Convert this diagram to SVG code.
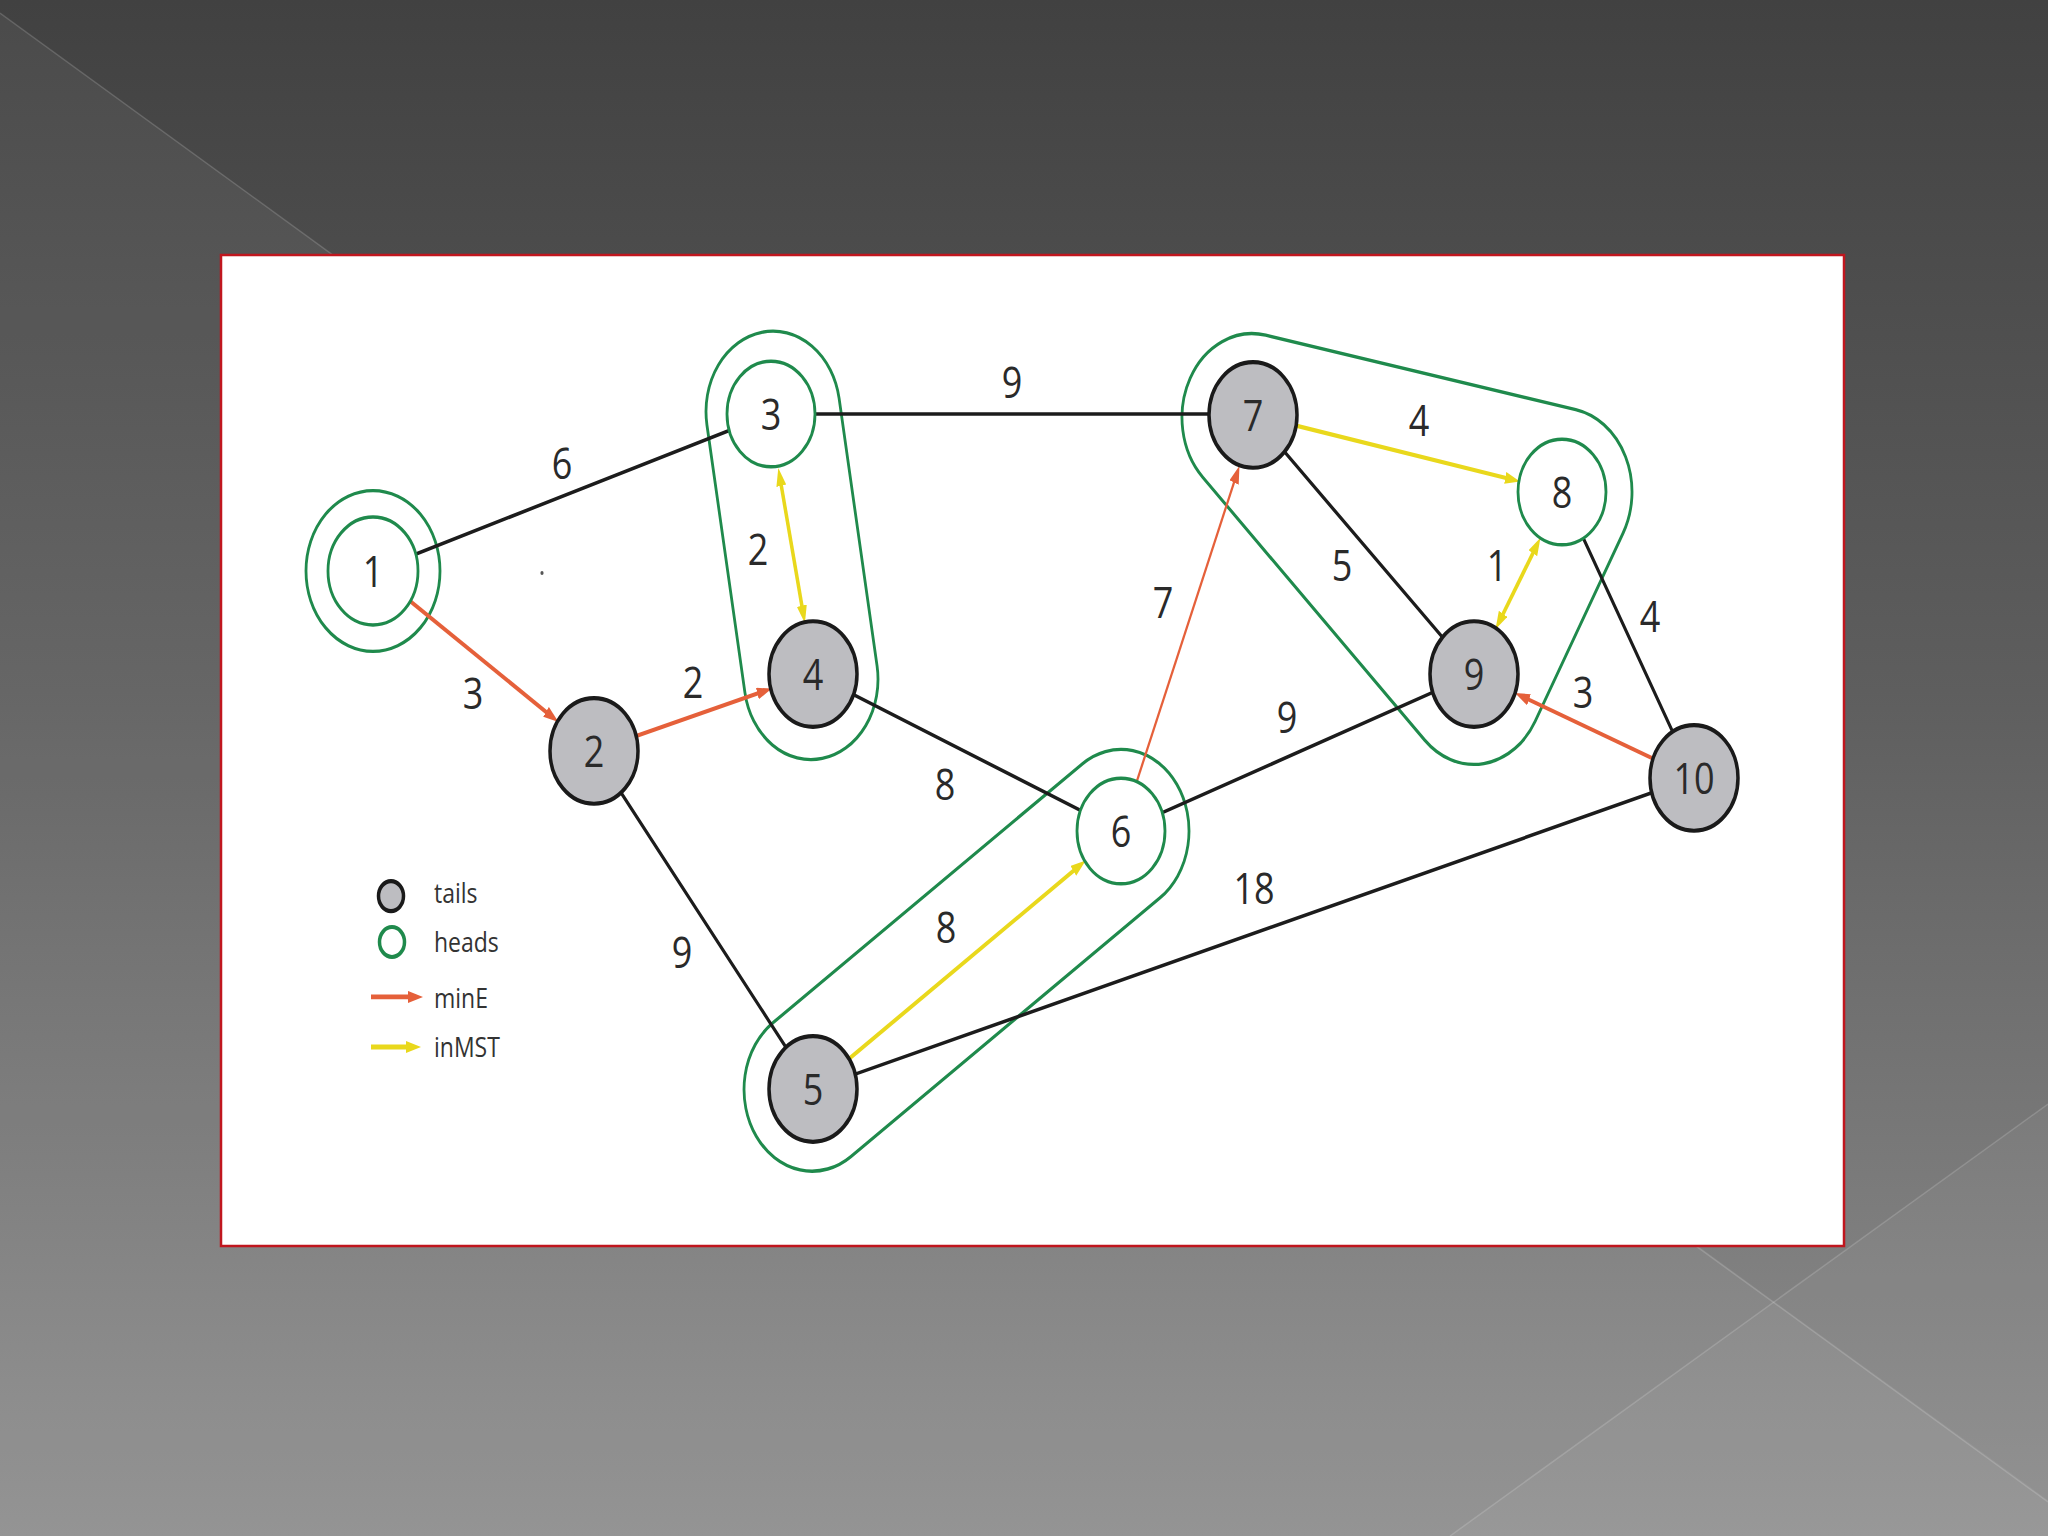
<svg xmlns="http://www.w3.org/2000/svg" width="2048" height="1536" viewBox="0 0 2048 1536">
  <defs>
    <linearGradient id="bg" x1="0" y1="0" x2="0" y2="1">
      <stop offset="0" stop-color="#414141"/>
      <stop offset="0.45" stop-color="#5e5e5e"/>
      <stop offset="1" stop-color="#8f8f8f"/>
    </linearGradient>
    <marker id="arrO" markerUnits="userSpaceOnUse" markerWidth="16" markerHeight="12" refX="6" refY="5" orient="auto">
      <path d="M0,0 L15,5 L0,10 Z" fill="#e5603a"/>
    </marker>
    <marker id="arrY" markerUnits="userSpaceOnUse" markerWidth="16" markerHeight="12" refX="6" refY="5" orient="auto-start-reverse">
      <path d="M0,0 L15,5 L0,10 Z" fill="#e9d81c"/>
    </marker>
    <style>
      .edge { stroke: #1c1c1c; stroke-width: 3; fill: none; stroke-linecap: round; }
      .minE { stroke: #e5603a; stroke-width: 3.5; fill: none; marker-end: url(#arrO); }
      .inMST { stroke: #e9d81c; stroke-width: 3.5; fill: none; }
      .grp { stroke: #1f8a4c; stroke-width: 2.8; fill: none; }
      .head { stroke: #1f8a4c; stroke-width: 2.8; fill: #ffffff; }
      .tail { stroke: #1a1a1a; stroke-width: 3.5; fill: #bdbdc1; }
      .nl { font-family: "Open Sans", "Noto Sans", "Liberation Sans", sans-serif; font-size: 36px; fill: #2a2a2a; text-anchor: middle; }
      .el { font-family: "Open Sans", "Noto Sans", "Liberation Sans", sans-serif; font-size: 36px; fill: #2a2a2a; text-anchor: middle; }
      .lg { font-family: "Open Sans", "Noto Sans", "Liberation Sans", sans-serif; font-size: 23px; fill: #333333; }
    </style>
  </defs>

  <rect x="0" y="0" width="2048" height="1536" fill="url(#bg)"/>
  <polygon points="0,13 2048,1500 2048,1536 0,1536" fill="#ffffff" fill-opacity="0.05"/>
  <polygon points="2048,1104 1450,1536 2048,1536" fill="#ffffff" fill-opacity="0.04"/>
  <line x1="0" y1="13" x2="2048" y2="1502" stroke="#ffffff" stroke-opacity="0.16" stroke-width="1.5"/>
  <line x1="2048" y1="1104" x2="1450" y2="1536" stroke="#ffffff" stroke-opacity="0.16" stroke-width="1.5"/>

  <rect id="panel" x="221" y="255" width="1623" height="991" fill="#ffffff" stroke="#c0161e" stroke-width="2.5"/>

  <g transform="scale(1,1.2)">
    <g id="groups">
      <path class="grp" d="M839.05,331.74 L877.05,554.74 A67,67 0 0 1 744.95,577.26 L706.95,354.26 A67,67 0 0 1 839.05,331.74 Z"/>
      <path class="grp" d="M1159.9,748.28 L850.9,963.78 A68,68 0 0 1 773.1,852.22 L1082.1,636.72 A68,68 0 0 1 1159.9,748.28 Z"/>
      <path class="grp" d="M1265.73,279.35 L1575.73,341.35 A70,70 0 0 1 1623.06,444.23 L1535.06,601.23 A70,70 0 0 1 1424.84,616.83 L1202.84,397.83 A70,70 0 0 1 1265.73,279.35 Z"/>
      <circle class="grp" cx="373" cy="475.8" r="67"/>
    </g>

    <g id="connectors">
      <line class="edge" x1="414.8" y1="462.1" x2="729.2" y2="358.7"/>
      <line class="edge" x1="815" y1="345" x2="1209" y2="345"/>
      <line class="edge" x1="853.5" y1="578.9" x2="1080.5" y2="675.3"/>
      <line class="edge" x1="621" y1="660.5" x2="786" y2="872.8"/>
      <line class="edge" x1="855.2" y1="895.1" x2="1651.8" y2="660.7"/>
      <line class="edge" x1="1162.3" y1="677.2" x2="1432.7" y2="577"/>
      <line class="edge" x1="1284.5" y1="376.5" x2="1442.5" y2="531"/>
      <line class="edge" x1="1583.3" y1="448.5" x2="1672.7" y2="609.8"/>

      <line class="minE" x1="409.4" y1="500.5" x2="551" y2="596.6"/>
      <line class="minE" x1="636.2" y1="613.4" x2="763.1" y2="576.3"/>
      <line class="minE" x1="1136.7" y1="651.4" x2="1236.2" y2="396.5" style="stroke-width:2.2"/>
      <line class="minE" x1="1653.1" y1="632.2" x2="1523.4" y2="580.9"/>

      <line class="inMST" x1="780.1" y1="398.9" x2="803.1" y2="510.6" marker-start="url(#arrY)" marker-end="url(#arrY)"/>
      <line class="inMST" x1="1296" y1="354.7" x2="1511.1" y2="399.4" marker-end="url(#arrY)"/>
      <line class="inMST" x1="1535.9" y1="455.9" x2="1500.1" y2="516.7" marker-start="url(#arrY)" marker-end="url(#arrY)"/>
      <line class="inMST" x1="849.1" y1="882.3" x2="1078.3" y2="722.3" marker-end="url(#arrY)"/>
    </g>

    <g id="edge-labels">
      <text class="el" x="562" y="398.8">6</text>
      <text class="el" x="1012" y="332">9</text>
      <text class="el" x="473" y="590.5">3</text>
      <text class="el" x="693" y="582">2</text>
      <text class="el" x="758" y="471">2</text>
      <text class="el" x="945" y="667">8</text>
      <text class="el" x="682" y="807">9</text>
      <text class="el" x="946" y="785.5">8</text>
      <text class="el" x="1254" y="753">18</text>
      <text class="el" x="1163" y="514.7">7</text>
      <text class="el" x="1287" y="611">9</text>
      <text class="el" x="1419" y="363">4</text>
      <text class="el" x="1342" y="484">5</text>
      <text class="el" x="1497" y="484">1</text>
      <text class="el" x="1650" y="527">4</text>
      <text class="el" x="1583" y="589.7">3</text>
    </g>

    <circle cx="542" cy="477.5" r="1.6" fill="#555555"/>

    <g id="node-1"><circle class="head" cx="373" cy="475.8" r="45"/><text class="nl" x="373" y="488.8">1</text></g>
    <g id="node-2"><circle class="tail" cx="594" cy="625.8" r="44"/><text class="nl" x="594" y="638.8">2</text></g>
    <g id="node-3"><circle class="head" cx="771" cy="345" r="44"/><text class="nl" x="771" y="358">3</text></g>
    <g id="node-4"><circle class="tail" cx="813" cy="561.7" r="44"/><text class="nl" x="813" y="574.7">4</text></g>
    <g id="node-5"><circle class="tail" cx="813" cy="907.5" r="44"/><text class="nl" x="813" y="920.5">5</text></g>
    <g id="node-6"><circle class="head" cx="1121" cy="692.5" r="44"/><text class="nl" x="1121" y="705.5">6</text></g>
    <g id="node-7"><circle class="tail" cx="1253" cy="345.8" r="44"/><text class="nl" x="1253" y="358.8">7</text></g>
    <g id="node-8"><circle class="head" cx="1562" cy="410" r="44"/><text class="nl" x="1562" y="423">8</text></g>
    <g id="node-9"><circle class="tail" cx="1474" cy="561.7" r="44"/><text class="nl" x="1474" y="574.7">9</text></g>
    <g id="node-10"><circle class="tail" cx="1694" cy="648.3" r="44"/><text class="nl" x="1694" y="661.3">10</text></g>

    <g id="legend">
      <circle cx="391" cy="746.7" r="12.5" fill="#bdbdc1" stroke="#1a1a1a" stroke-width="3.5"/>
      <text class="lg" x="434" y="752.5">tails</text>
      <circle cx="392" cy="785" r="12.5" fill="#ffffff" stroke="#1f8a4c" stroke-width="3.5"/>
      <text class="lg" x="434" y="793.3">heads</text>
      <line x1="371" y1="830.8" x2="414" y2="830.8" stroke="#e5603a" stroke-width="4" marker-end="url(#arrO)"/>
      <text class="lg" x="434" y="840">minE</text>
      <line x1="371" y1="872.5" x2="412" y2="872.5" stroke="#e9d81c" stroke-width="4" marker-end="url(#arrY)"/>
      <text class="lg" x="434" y="880.8">inMST</text>
    </g>
  </g>
</svg>
